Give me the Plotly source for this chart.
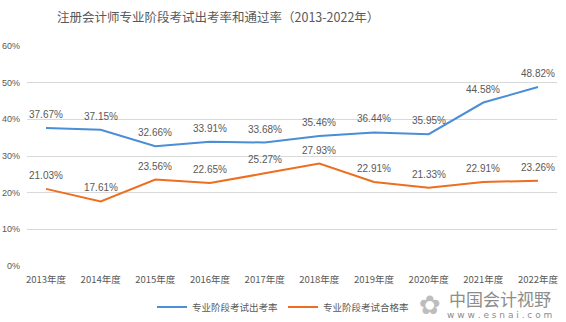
import plotly.graph_objects as go

years = ["2013年度", "2014年度", "2015年度", "2016年度", "2017年度",
         "2018年度", "2019年度", "2020年度", "2021年度", "2022年度"]
attendance = [37.67, 37.15, 32.66, 33.91, 33.68, 35.46, 36.44, 35.95, 44.58, 48.82]
pass_rate = [21.03, 17.61, 23.56, 22.65, 25.27, 27.93, 22.91, 21.33, 22.91, 23.26]
y_ticks = [0, 10, 20, 30, 40, 50, 60]

CJK = "Noto Sans CJK SC"
GRAY = "#595959"

fig = go.Figure()
for name, vals, color in [("专业阶段考试出考率", attendance, "#4A8ED6"),
                          ("专业阶段考试合格率", pass_rate, "#EE6E1F")]:
    fig.add_trace(go.Scatter(
        x=years, y=vals, name=name, mode="lines",
        line=dict(color=color, width=2),
    ))
    # value labels above each point
    for yr, v in zip(years, vals):
        fig.add_annotation(x=yr, y=v, text=f"{v:.2f}%", showarrow=False,
                           yanchor="bottom", yshift=6,
                           font=dict(family="Liberation Sans", size=10, color=GRAY))

fig.update_layout(
    width=566, height=322,
    margin=dict(l=27, r=9, t=46, b=56, autoexpand=False),
    paper_bgcolor="white", plot_bgcolor="white",
    title=dict(text="注册会计师专业阶段考试出考率和通过率（2013-2022年）",
               x=57 / 566, xanchor="left", y=1 - 18 / 322, yanchor="middle",
               font=dict(family=CJK, size=12.5, color=GRAY)),
    legend=dict(orientation="h", xref="container", yref="container",
                x=283 / 566, xanchor="center", y=1 - 307 / 322, yanchor="middle",
                font=dict(family=CJK, size=9.5, color=GRAY),
                itemwidth=30, traceorder="normal"),
    xaxis=dict(type="category", showgrid=False, showline=False, ticks="",
               ticklabelstandoff=6,
               tickfont=dict(family=CJK, size=9.5, color=GRAY), fixedrange=True),
    yaxis=dict(range=[0, 60], tickvals=y_ticks,
               ticktext=[f"{t}%" for t in y_ticks],
               showgrid=True, gridcolor="#D9D9D9", gridwidth=1,
               zeroline=False, showline=False, ticks="",
               ticklabelstandoff=6,
               tickfont=dict(family="Liberation Sans", size=9, color=GRAY)),
    showlegend=True,
)

# site mark in the lower-right corner
fig.add_annotation(text="中国会计视野", xref="paper", yref="paper",
                   x=(553 - 27) / 530, xanchor="right", y=-(298 - 266) / 220, yanchor="middle",
                   showarrow=False, font=dict(family=CJK, size=17, color="#8C8C8C"))
fig.add_annotation(text="w w w . e s n a i . c o m", xref="paper", yref="paper",
                   x=(554 - 27) / 530, xanchor="right", y=-(315 - 266) / 220, yanchor="middle",
                   showarrow=False, font=dict(family="DejaVu Sans", size=9, color="#8C8C8C"))
fig.add_annotation(text="✿", xref="paper", yref="paper",
                   x=(430 - 27) / 530, xanchor="center", y=-(305 - 266) / 220, yanchor="middle",
                   showarrow=False, font=dict(family="DejaVu Sans", size=26, color="#BDBDBD"))

fig.write_html("out.html")
